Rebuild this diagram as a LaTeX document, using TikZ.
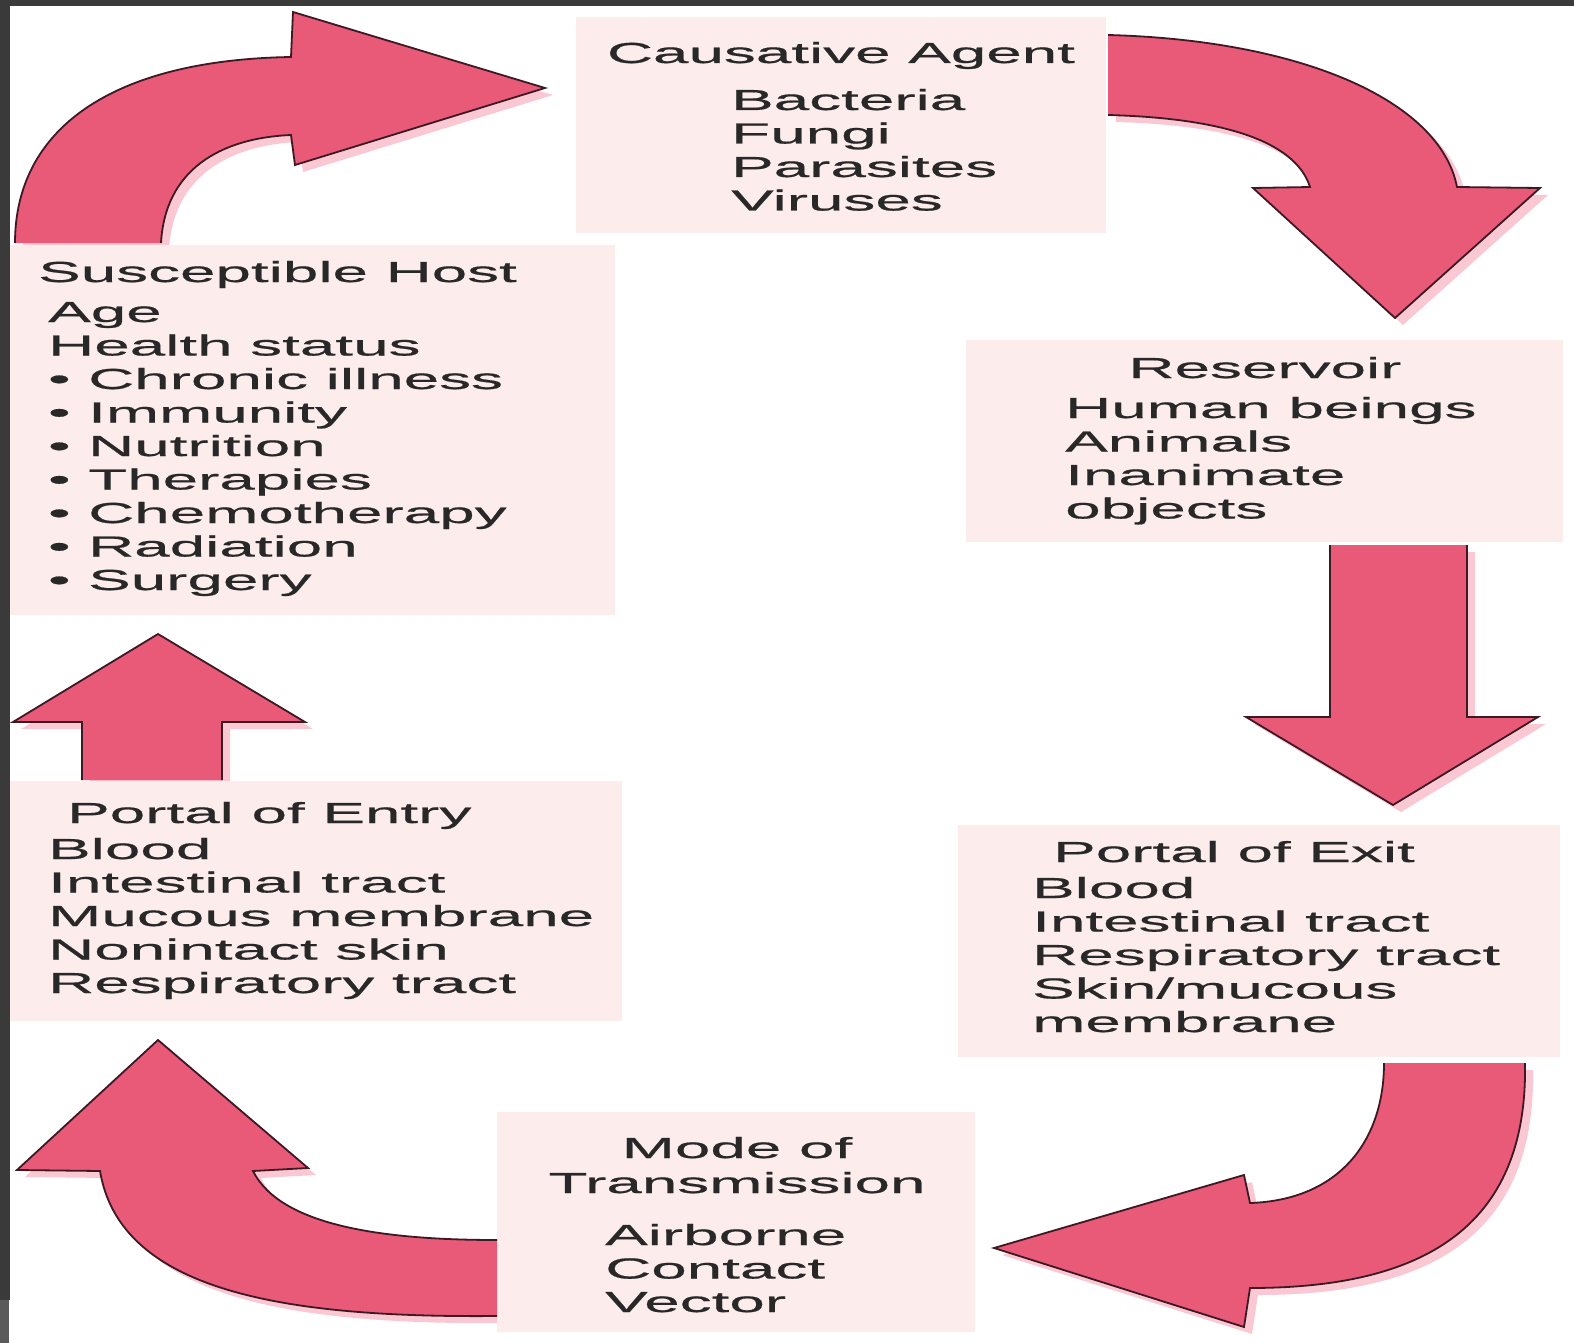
\documentclass[tikz,border=0pt]{standalone}
\usepackage{fontspec}
\setmainfont{Liberation Sans}[FakeStretch=2.2,FakeBold=0.6]
\definecolor{arrowfill}{RGB}{233,90,120}
\definecolor{arrowline}{RGB}{60,25,35}
\definecolor{shadowpink}{RGB}{249,200,210}
\definecolor{boxfill}{RGB}{252,236,236}
\definecolor{framegray}{RGB}{58,58,58}
\definecolor{framelight}{RGB}{90,90,90}
\definecolor{txtcol}{RGB}{40,40,40}
\tikzset{
  box/.style={rectangle, fill=boxfill, draw=none, anchor=north west, inner sep=0pt},
  txt/.style={font=\fontsize{29}{33.5}\selectfont, text=txtcol, inner sep=0pt, align=left},
  ttl/.style={font=\fontsize{29}{35}\selectfont, text=txtcol, inner sep=0pt, align=center},
  arrowbody/.style={fill=arrowfill},
  arrowedge/.style={draw=arrowline, line width=1.8pt, line join=miter},
  arrowshadow/.style={fill=shadowpink},
}
\begin{document}
\begin{tikzpicture}[x=1pt,y=-1pt]
\useasboundingbox (0,0) rectangle (1574,1343);
\fill[white] (0,0) rectangle (1574,1343);

% shadows
\begin{scope}[shift={(8,7)}]
\fill[arrowshadow] (15,243) .. controls (15,130) and (110,60) .. (291,57) -- (293,12) -- (545,88) -- (295,165) -- (291,135) .. controls (220,138) and (165,170) .. (161,243) -- cycle;
\fill[arrowshadow] (1108,35) .. controls (1300,40) and (1440,100) .. (1457,187) -- (1540,188) -- (1395,318) -- (1253,188) -- (1310,187) .. controls (1295,140) and (1220,118) .. (1108,115) -- cycle;
\fill[arrowshadow] (1330,545) -- (1330,717) -- (1246,717) -- (1393,805) -- (1538,717) -- (1467,717) -- (1467,545) -- cycle;
\fill[arrowshadow] (1525,1063) .. controls (1528,1230) and (1420,1288) .. (1250,1288) -- (1244,1327) -- (994,1248) -- (1244,1175) -- (1250,1203) .. controls (1340,1200) and (1384,1140) .. (1384,1063) -- cycle;
\fill[arrowshadow] (497,1316) .. controls (280,1318) and (120,1290) .. (100,1171) -- (17,1170) -- (158,1040) -- (308,1168) -- (253,1171) .. controls (280,1225) and (380,1240) .. (497,1240) -- cycle;
\fill[arrowshadow] (82,780) -- (82,722) -- (13,722) -- (158,634) -- (305,722) -- (222,722) -- (222,780) -- cycle;
\end{scope}

% boxes
\node[box, minimum width=530pt, minimum height=216pt] (agentbox) at (576,17) {};
\node[box, minimum width=597pt, minimum height=202pt] (resbox) at (966,340) {};
\node[box, minimum width=602pt, minimum height=232pt] (exitbox) at (958,825) {};
\node[box, minimum width=478pt, minimum height=220pt] (modebox) at (497,1112) {};
\node[box, minimum width=612pt, minimum height=240pt] (entrybox) at (10,781) {};
\node[box, minimum width=605pt, minimum height=370pt] (hostbox) at (10,245) {};

% arrows: fill
\fill[arrowbody] (15,243) .. controls (15,130) and (110,60) .. (291,57) -- (293,12) -- (545,88) -- (295,165) -- (291,135) .. controls (220,138) and (165,170) .. (161,243) -- cycle;
\fill[arrowbody] (1108,35) .. controls (1300,40) and (1440,100) .. (1457,187) -- (1540,188) -- (1395,318) -- (1253,188) -- (1310,187) .. controls (1295,140) and (1220,118) .. (1108,115) -- cycle;
\fill[arrowbody] (1330,545) -- (1330,717) -- (1246,717) -- (1393,805) -- (1538,717) -- (1467,717) -- (1467,545) -- cycle;
\fill[arrowbody] (1525,1063) .. controls (1528,1230) and (1420,1288) .. (1250,1288) -- (1244,1327) -- (994,1248) -- (1244,1175) -- (1250,1203) .. controls (1340,1200) and (1384,1140) .. (1384,1063) -- cycle;
\fill[arrowbody] (497,1316) .. controls (280,1318) and (120,1290) .. (100,1171) -- (17,1170) -- (158,1040) -- (308,1168) -- (253,1171) .. controls (280,1225) and (380,1240) .. (497,1240) -- cycle;
\fill[arrowbody] (82,780) -- (82,722) -- (13,722) -- (158,634) -- (305,722) -- (222,722) -- (222,780) -- cycle;

% arrows: outlines (open at the tails)
\draw[arrowedge] (15,243) .. controls (15,130) and (110,60) .. (291,57) -- (293,12) -- (545,88) -- (295,165) -- (291,135) .. controls (220,138) and (165,170) .. (161,243);
\draw[arrowedge] (1108,35) .. controls (1300,40) and (1440,100) .. (1457,187) -- (1540,188) -- (1395,318) -- (1253,188) -- (1310,187) .. controls (1295,140) and (1220,118) .. (1108,115);
\draw[arrowedge] (1330,545) -- (1330,717) -- (1246,717) -- (1393,805) -- (1538,717) -- (1467,717) -- (1467,545);
\draw[arrowedge] (1525,1063) .. controls (1528,1230) and (1420,1288) .. (1250,1288) -- (1244,1327) -- (994,1248) -- (1244,1175) -- (1250,1203) .. controls (1340,1200) and (1384,1140) .. (1384,1063);
\draw[arrowedge] (497,1316) .. controls (280,1318) and (120,1290) .. (100,1171) -- (17,1170) -- (158,1040) -- (308,1168) -- (253,1171) .. controls (280,1225) and (380,1240) .. (497,1240);
\draw[arrowedge] (82,780) -- (82,722) -- (13,722) -- (158,634) -- (305,722) -- (222,722) -- (222,780);

% texts (base anchor of a multi-line node = baseline of its last line)
\node[ttl, anchor=base] (agenttitle) at (841,63) {Causative Agent};
\node[txt, anchor=base west] (agentlist) at (731,210.5) {Bacteria\\Fungi\\Parasites\\Viruses};

\node[ttl, anchor=base] (restitle) at (1265,378) {Reservoir};
\node[txt, anchor=base west] (reslist) at (1065,518.5) {Human beings\\Animals\\Inanimate\\objects};

\node[ttl, anchor=base west] (exittitle) at (1053,862) {Portal of Exit};
\node[txt, anchor=base west] (exitlist) at (1032,1032) {Blood\\Intestinal tract\\Respiratory tract\\Skin/mucous\\membrane};

\node[ttl, anchor=base] (modetitle) at (737,1193) {Mode of\\Transmission};
\node[txt, anchor=base west] (modelist) at (605,1312) {Airborne\\Contact\\Vector};

\node[ttl, anchor=base west] (entrytitle) at (67,823) {Portal of Entry};
\node[txt, anchor=base west] (entrylist) at (48,993) {Blood\\Intestinal tract\\Mucous membrane\\Nonintact skin\\Respiratory tract};

\node[ttl, anchor=base west] (hosttitle) at (38,282) {Susceptible Host};
\node[txt, anchor=base west] (hostlist) at (48,590) {Age\\Health status\\• Chronic illness\\• Immunity\\• Nutrition\\• Therapies\\• Chemotherapy\\• Radiation\\• Surgery};

% frame
\fill[framegray] (0,0) rectangle (10,1300);
\fill[framelight] (0,1300) rectangle (9,1343);
\fill[framegray] (0,0) rectangle (1574,6);
\end{tikzpicture}
\end{document}
